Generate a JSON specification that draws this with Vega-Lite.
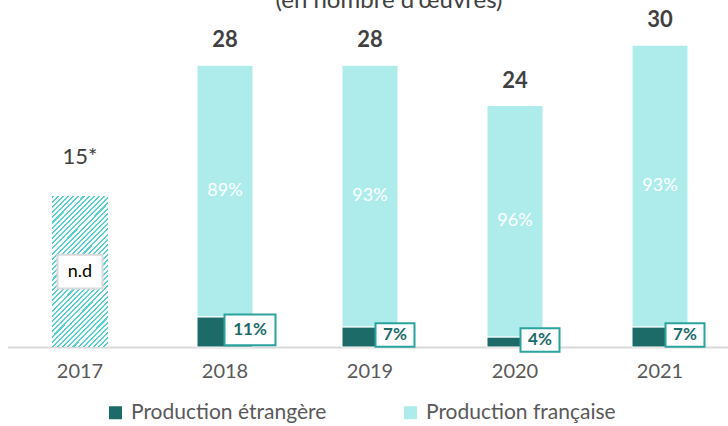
{
  "$schema": "https://vega.github.io/schema/vega-lite/v6.json",
  "width": 728,
  "height": 327,
  "autosize": "none",
  "padding": {"top": 20, "left": 0, "right": 0, "bottom": 79},
  "background": "white",
  "config": {"view": {"stroke": null}, "font": "Lato"},
  "title": {"text": "(en nombre d'œuvres)", "font": "Lato", "fontSize": 24, "fontWeight": "normal", "color": "#404040", "anchor": "middle", "dx": 25, "offset": -4},
  "data": {"values": [
    {"year": "2017", "type": "n.d", "n": 15, "pct": null},
    {"year": "2018", "type": "Production étrangère", "n": 3, "pct": 0.11},
    {"year": "2018", "type": "Production française", "n": 25, "pct": 0.89},
    {"year": "2019", "type": "Production étrangère", "n": 2, "pct": 0.07},
    {"year": "2019", "type": "Production française", "n": 26, "pct": 0.93},
    {"year": "2020", "type": "Production étrangère", "n": 1, "pct": 0.04},
    {"year": "2020", "type": "Production française", "n": 23, "pct": 0.96},
    {"year": "2021", "type": "Production étrangère", "n": 2, "pct": 0.07},
    {"year": "2021", "type": "Production française", "n": 28, "pct": 0.93}
  ]},
  "transform": [
    {"stack": "n", "groupby": ["year"], "sort": [{"field": "type", "order": "descending"}], "as": ["y0", "y1"]},
    {"calculate": "(datum.y0 + datum.y1) / 2", "as": "mid"}
  ],
  "encoding": {
    "x": {"field": "year", "type": "nominal",
      "scale": {"domain": ["2017", "2018", "2019", "2020", "2021"], "range": [7.5, 732.5], "paddingInner": 0.614, "paddingOuter": 0.307},
      "axis": {"title": null, "labelAngle": 0, "ticks": false, "domainColor": "#d9d9d9", "domainWidth": 2, "labelFont": "Lato", "labelFontSize": 20, "labelColor": "#595959", "labelPadding": 14}}
  },
  "layer": [
    {
      "transform": [{"filter": "datum.type != 'n.d'"}],
      "mark": {"type": "bar", "stroke": "white", "strokeWidth": 1},
      "encoding": {
        "y": {"field": "y0", "type": "quantitative", "scale": {"domain": [0, 32.5], "nice": false}, "axis": null},
        "y2": {"field": "y1"},
        "color": {"field": "type", "type": "nominal",
          "scale": {"domain": ["Production étrangère", "Production française"], "range": ["#1c6b69", "#aeecec"]},
          "legend": {"title": null, "orient": "none", "legendX": 105, "legendY": 382, "direction": "horizontal", "symbolType": "square", "symbolSize": 169, "symbolStrokeWidth": 0, "labelFont": "Lato", "labelFontSize": 21, "labelColor": "#595959", "labelOffset": 5, "columnPadding": 73, "labelLimit": 400}}
      }
    },
    {
      "transform": [{"filter": "datum.type == 'n.d'"}],
      "mark": {"type": "bar", "fill": {"gradient": "linear", "x1": 0, "y1": 0, "x2": 0.45, "y2": 1.2055, "stops": [
        {"offset": 0, "color": "#55d2d1"}, {"offset": 0.01, "color": "#55d2d1"}, {"offset": 0.01, "color": "#ffffff"}, {"offset": 0.025, "color": "#ffffff"},
        {"offset": 0.025, "color": "#55d2d1"}, {"offset": 0.035, "color": "#55d2d1"}, {"offset": 0.035, "color": "#ffffff"}, {"offset": 0.05, "color": "#ffffff"},
        {"offset": 0.05, "color": "#55d2d1"}, {"offset": 0.06, "color": "#55d2d1"}, {"offset": 0.06, "color": "#ffffff"}, {"offset": 0.075, "color": "#ffffff"},
        {"offset": 0.075, "color": "#55d2d1"}, {"offset": 0.085, "color": "#55d2d1"}, {"offset": 0.085, "color": "#ffffff"}, {"offset": 0.1, "color": "#ffffff"},
        {"offset": 0.1, "color": "#55d2d1"}, {"offset": 0.11, "color": "#55d2d1"}, {"offset": 0.11, "color": "#ffffff"}, {"offset": 0.125, "color": "#ffffff"},
        {"offset": 0.125, "color": "#55d2d1"}, {"offset": 0.135, "color": "#55d2d1"}, {"offset": 0.135, "color": "#ffffff"}, {"offset": 0.15, "color": "#ffffff"},
        {"offset": 0.15, "color": "#55d2d1"}, {"offset": 0.16, "color": "#55d2d1"}, {"offset": 0.16, "color": "#ffffff"}, {"offset": 0.175, "color": "#ffffff"},
        {"offset": 0.175, "color": "#55d2d1"}, {"offset": 0.185, "color": "#55d2d1"}, {"offset": 0.185, "color": "#ffffff"}, {"offset": 0.2, "color": "#ffffff"},
        {"offset": 0.2, "color": "#55d2d1"}, {"offset": 0.21, "color": "#55d2d1"}, {"offset": 0.21, "color": "#ffffff"}, {"offset": 0.225, "color": "#ffffff"},
        {"offset": 0.225, "color": "#55d2d1"}, {"offset": 0.235, "color": "#55d2d1"}, {"offset": 0.235, "color": "#ffffff"}, {"offset": 0.25, "color": "#ffffff"},
        {"offset": 0.25, "color": "#55d2d1"}, {"offset": 0.26, "color": "#55d2d1"}, {"offset": 0.26, "color": "#ffffff"}, {"offset": 0.275, "color": "#ffffff"},
        {"offset": 0.275, "color": "#55d2d1"}, {"offset": 0.285, "color": "#55d2d1"}, {"offset": 0.285, "color": "#ffffff"}, {"offset": 0.3, "color": "#ffffff"},
        {"offset": 0.3, "color": "#55d2d1"}, {"offset": 0.31, "color": "#55d2d1"}, {"offset": 0.31, "color": "#ffffff"}, {"offset": 0.325, "color": "#ffffff"},
        {"offset": 0.325, "color": "#55d2d1"}, {"offset": 0.335, "color": "#55d2d1"}, {"offset": 0.335, "color": "#ffffff"}, {"offset": 0.35, "color": "#ffffff"},
        {"offset": 0.35, "color": "#55d2d1"}, {"offset": 0.36, "color": "#55d2d1"}, {"offset": 0.36, "color": "#ffffff"}, {"offset": 0.375, "color": "#ffffff"},
        {"offset": 0.375, "color": "#55d2d1"}, {"offset": 0.385, "color": "#55d2d1"}, {"offset": 0.385, "color": "#ffffff"}, {"offset": 0.4, "color": "#ffffff"},
        {"offset": 0.4, "color": "#55d2d1"}, {"offset": 0.41, "color": "#55d2d1"}, {"offset": 0.41, "color": "#ffffff"}, {"offset": 0.425, "color": "#ffffff"},
        {"offset": 0.425, "color": "#55d2d1"}, {"offset": 0.435, "color": "#55d2d1"}, {"offset": 0.435, "color": "#ffffff"}, {"offset": 0.45, "color": "#ffffff"},
        {"offset": 0.45, "color": "#55d2d1"}, {"offset": 0.46, "color": "#55d2d1"}, {"offset": 0.46, "color": "#ffffff"}, {"offset": 0.475, "color": "#ffffff"},
        {"offset": 0.475, "color": "#55d2d1"}, {"offset": 0.485, "color": "#55d2d1"}, {"offset": 0.485, "color": "#ffffff"}, {"offset": 0.5, "color": "#ffffff"},
        {"offset": 0.5, "color": "#55d2d1"}, {"offset": 0.51, "color": "#55d2d1"}, {"offset": 0.51, "color": "#ffffff"}, {"offset": 0.525, "color": "#ffffff"},
        {"offset": 0.525, "color": "#55d2d1"}, {"offset": 0.535, "color": "#55d2d1"}, {"offset": 0.535, "color": "#ffffff"}, {"offset": 0.55, "color": "#ffffff"},
        {"offset": 0.55, "color": "#55d2d1"}, {"offset": 0.56, "color": "#55d2d1"}, {"offset": 0.56, "color": "#ffffff"}, {"offset": 0.575, "color": "#ffffff"},
        {"offset": 0.575, "color": "#55d2d1"}, {"offset": 0.585, "color": "#55d2d1"}, {"offset": 0.585, "color": "#ffffff"}, {"offset": 0.6, "color": "#ffffff"},
        {"offset": 0.6, "color": "#55d2d1"}, {"offset": 0.61, "color": "#55d2d1"}, {"offset": 0.61, "color": "#ffffff"}, {"offset": 0.625, "color": "#ffffff"},
        {"offset": 0.625, "color": "#55d2d1"}, {"offset": 0.635, "color": "#55d2d1"}, {"offset": 0.635, "color": "#ffffff"}, {"offset": 0.65, "color": "#ffffff"},
        {"offset": 0.65, "color": "#55d2d1"}, {"offset": 0.66, "color": "#55d2d1"}, {"offset": 0.66, "color": "#ffffff"}, {"offset": 0.675, "color": "#ffffff"},
        {"offset": 0.675, "color": "#55d2d1"}, {"offset": 0.685, "color": "#55d2d1"}, {"offset": 0.685, "color": "#ffffff"}, {"offset": 0.7, "color": "#ffffff"},
        {"offset": 0.7, "color": "#55d2d1"}, {"offset": 0.71, "color": "#55d2d1"}, {"offset": 0.71, "color": "#ffffff"}, {"offset": 0.725, "color": "#ffffff"},
        {"offset": 0.725, "color": "#55d2d1"}, {"offset": 0.735, "color": "#55d2d1"}, {"offset": 0.735, "color": "#ffffff"}, {"offset": 0.75, "color": "#ffffff"},
        {"offset": 0.75, "color": "#55d2d1"}, {"offset": 0.76, "color": "#55d2d1"}, {"offset": 0.76, "color": "#ffffff"}, {"offset": 0.775, "color": "#ffffff"},
        {"offset": 0.775, "color": "#55d2d1"}, {"offset": 0.785, "color": "#55d2d1"}, {"offset": 0.785, "color": "#ffffff"}, {"offset": 0.8, "color": "#ffffff"},
        {"offset": 0.8, "color": "#55d2d1"}, {"offset": 0.81, "color": "#55d2d1"}, {"offset": 0.81, "color": "#ffffff"}, {"offset": 0.825, "color": "#ffffff"},
        {"offset": 0.825, "color": "#55d2d1"}, {"offset": 0.835, "color": "#55d2d1"}, {"offset": 0.835, "color": "#ffffff"}, {"offset": 0.85, "color": "#ffffff"},
        {"offset": 0.85, "color": "#55d2d1"}, {"offset": 0.86, "color": "#55d2d1"}, {"offset": 0.86, "color": "#ffffff"}, {"offset": 0.875, "color": "#ffffff"},
        {"offset": 0.875, "color": "#55d2d1"}, {"offset": 0.885, "color": "#55d2d1"}, {"offset": 0.885, "color": "#ffffff"}, {"offset": 0.9, "color": "#ffffff"},
        {"offset": 0.9, "color": "#55d2d1"}, {"offset": 0.91, "color": "#55d2d1"}, {"offset": 0.91, "color": "#ffffff"}, {"offset": 0.925, "color": "#ffffff"},
        {"offset": 0.925, "color": "#55d2d1"}, {"offset": 0.935, "color": "#55d2d1"}, {"offset": 0.935, "color": "#ffffff"}, {"offset": 0.95, "color": "#ffffff"},
        {"offset": 0.95, "color": "#55d2d1"}, {"offset": 0.96, "color": "#55d2d1"}, {"offset": 0.96, "color": "#ffffff"}, {"offset": 0.975, "color": "#ffffff"},
        {"offset": 0.975, "color": "#55d2d1"}, {"offset": 0.985, "color": "#55d2d1"}, {"offset": 0.985, "color": "#ffffff"}, {"offset": 1, "color": "#ffffff"}
      ]}},
      "encoding": {
        "y": {"field": "y0", "type": "quantitative"},
        "y2": {"field": "y1"}
      }
    },
    {
      "transform": [{"filter": "datum.type == 'n.d'"}],
      "mark": {"type": "point", "shape": "M-1,-0.75L1,-0.75L1,0.75L-1,0.75Z", "size": 2025, "filled": true, "fill": "white", "stroke": "#d9d9d9", "strokeWidth": 2, "opacity": 1},
      "encoding": {"y": {"field": "mid", "type": "quantitative"}}
    },
    {
      "transform": [{"filter": "datum.type == 'n.d'"}],
      "mark": {"type": "text", "text": "n.d", "font": "Lato", "fontSize": 18, "color": "#000000"},
      "encoding": {"y": {"field": "mid", "type": "quantitative"}}
    },
    {
      "transform": [{"filter": "datum.type == 'n.d'"}],
      "mark": {"type": "text", "font": "Lato", "fontSize": 22, "color": "#404040", "dy": -39},
      "encoding": {"y": {"field": "y1", "type": "quantitative"}, "text": {"value": "15*"}}
    },
    {
      "transform": [
        {"filter": "datum.type != 'n.d'"},
        {"aggregate": [{"op": "sum", "field": "n", "as": "total"}], "groupby": ["year"]}
      ],
      "mark": {"type": "text", "font": "Lato", "fontSize": 22, "fontWeight": "bold", "color": "#404040", "dy": -25},
      "encoding": {"y": {"field": "total", "type": "quantitative"}, "text": {"field": "total", "type": "quantitative"}}
    },
    {
      "transform": [{"filter": "datum.type == 'Production française'"}],
      "mark": {"type": "text", "font": "Lato", "fontSize": 18, "color": "white"},
      "encoding": {"y": {"field": "mid", "type": "quantitative"}, "text": {"field": "pct", "type": "quantitative", "format": ".0%"}}
    },
    {
      "transform": [{"filter": "datum.type == 'Production étrangère'"}],
      "mark": {"type": "point", "shape": "M-1,-0.6L1,-0.6L1,0.6L-1,0.6Z", "filled": true, "fill": "white", "stroke": "#2aa39e", "strokeWidth": 2, "opacity": 1, "xOffset": 25, "yOffset": -2},
      "encoding": {
        "y": {"field": "mid", "type": "quantitative"},
        "size": {"condition": {"test": "datum.pct >= 0.1", "value": 2601}, "value": 1521}
      }
    },
    {
      "transform": [{"filter": "datum.type == 'Production étrangère'"}],
      "mark": {"type": "text", "font": "Lato", "fontSize": 17, "fontWeight": "bold", "color": "#1c6b69", "xOffset": 25, "yOffset": -2},
      "encoding": {"y": {"field": "mid", "type": "quantitative"}, "text": {"field": "pct", "type": "quantitative", "format": ".0%"}}
    }
  ]
}
